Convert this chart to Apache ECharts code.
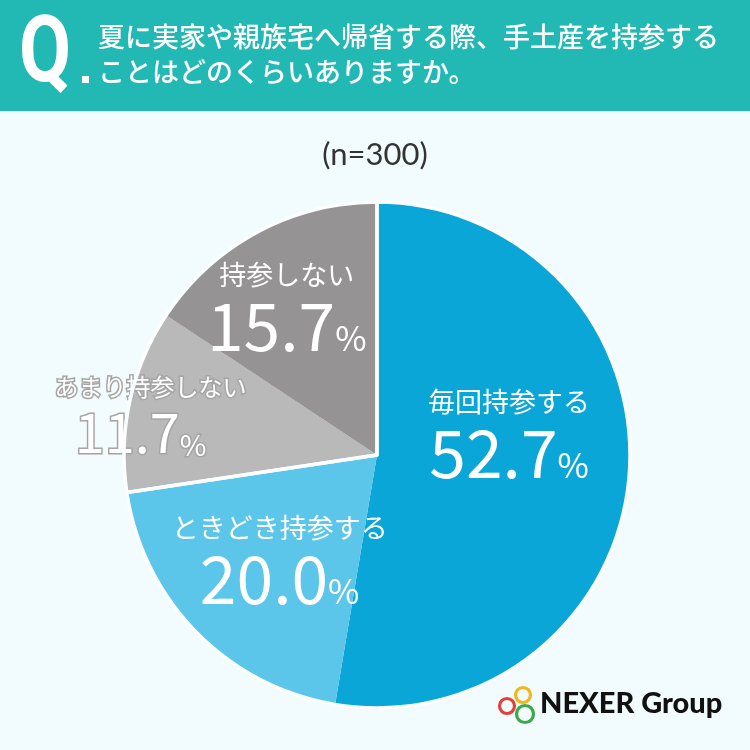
<!DOCTYPE html>
<html><head><meta charset="utf-8">
<script src="https://cdn.jsdelivr.net/npm/echarts@6/dist/echarts.min.js"></script>
<style>html,body{margin:0;padding:0;background:#f2fbfd;}#c{width:750px;height:750px;}</style>
</head><body><div id="c"></div>
<script>
const categories = ['毎回持参する', 'ときどき持参する', 'あまり持参しない', '持参しない'];
const values = [52.7, 20.0, 11.7, 15.7];
const colors = ['#0ba6d8', '#5bc6ea', '#b9b9b9', '#959393'];
const titleLines = ['夏に実家や親族宅へ帰省する際、手土産を持参する', 'ことはどのくらいありますか。'];
const sampleText = '(n=300)';

const F = '"Noto Sans CJK JP", sans-serif';
const BG = '#f2fbfd';
const chart = echarts.init(document.getElementById('c'));
const offsets = [[3, -31], [-5, 15], [-100, -11], [-29, -33]];
const stroke = {color: '#fff', textBorderColor: '#a5a5a5', textBorderWidth: 3};
// group sums for the white separators (blue group vs gray group)
const groupValues = [values[0] + values[1], values[2] + values[3]];
chart.setOption({
  backgroundColor: BG,
  animation: false,
  graphic: [
    {type: 'rect', shape: {x: 0, y: 0, width: 750, height: 111}, style: {fill: '#22b9b5'}},
    {type: 'text', x: 19, y: 12, scaleX: 0.82, style: {text: 'Q', fill: '#fff', font: 'bold 92px Roboto, sans-serif'}},
    {type: 'rect', shape: {x: 82, y: 76, width: 7, height: 7}, style: {fill: '#fff'}},
    {type: 'text', left: 98, top: 23, style: {text: titleLines[0], fill: '#fff', font: '500 27px ' + F}},
    {type: 'text', left: 98, top: 58, style: {text: titleLines[1], fill: '#fff', font: '500 27px ' + F}},
    {type: 'text', left: 'center', top: 140, style: {text: sampleText, fill: '#333', font: '31px Lato, ' + F}},
    {type: 'circle', shape: {cx: 523, cy: 695, r: 7.5}, style: {fill: 'none', stroke: '#f2b51c', lineWidth: 3.2}},
    {type: 'circle', shape: {cx: 507, cy: 706, r: 7.5}, style: {fill: 'none', stroke: '#e2403a', lineWidth: 3.2}},
    {type: 'circle', shape: {cx: 525, cy: 714, r: 8.5}, style: {fill: 'none', stroke: '#3aa948', lineWidth: 3.2}},
    {type: 'text', left: 540, top: 689, style: {text: 'NEXER Group', fill: '#111', font: '900 29px Lato, sans-serif'}}
  ],
  series: [{
    type: 'pie',
    center: [377, 455],
    radius: [0, 253],
    startAngle: 90,
    clockwise: true,
    silent: true,
    data: categories.map((n, i) => ({
      name: n, value: values[i],
      itemStyle: {color: colors[i]},
      label: i === 2 ? Object.assign({}, stroke, {
        rich: {
          name: Object.assign({fontSize: 24, fontFamily: F, lineHeight: 34}, stroke),
          num: Object.assign({fontSize: 54, fontFamily: F, lineHeight: 58}, stroke),
          pct: Object.assign({fontSize: 29, fontFamily: F, lineHeight: 58, verticalAlign: 'bottom', padding: [0, 20, 2, 0]}, stroke)
        }}) : {}
    })),
    itemStyle: {borderWidth: 0},
    label: {
      show: true,
      position: 'inside',
      color: '#fff',
      formatter: p => '{name|' + p.name + '}\n{num|' + p.value.toFixed(1) + '}{pct|%}',
      rich: {
        name: {fontSize: 27, fontFamily: F, color: '#fff', lineHeight: 36},
        num: {fontSize: 66, fontFamily: F, color: '#fff', lineHeight: 66},
        pct: {fontSize: 34, fontFamily: F, color: '#fff', lineHeight: 66, verticalAlign: 'bottom', padding: [0, 0, 4, 0]}
      }
    },
    labelLine: {show: false},
    labelLayout: p => ({dx: offsets[p.dataIndex][0], dy: offsets[p.dataIndex][1]})
  }, {
    type: 'pie',
    center: [377, 455],
    radius: [0, 253],
    startAngle: 90,
    clockwise: true,
    silent: true,
    z: 3,
    label: {show: false},
    labelLine: {show: false},
    data: groupValues.map(v => ({value: v, itemStyle: {color: 'rgba(0,0,0,0)', borderColor: '#fbfeff', borderWidth: 3.5}}))
  }]
});
</script></body></html>
